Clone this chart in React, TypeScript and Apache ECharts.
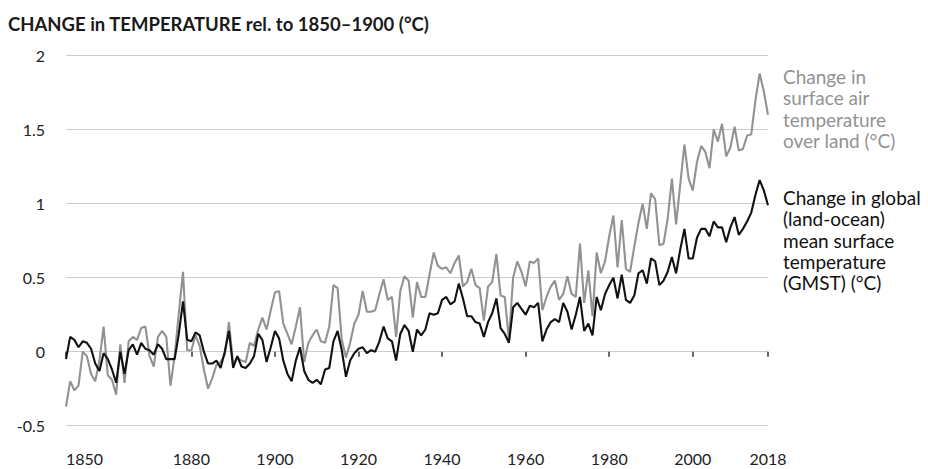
import { useEffect, useRef } from 'react';
import * as echarts from 'echarts';

const YEAR_START = 1850;

// Change in global (land-ocean) mean surface temperature, 1850–2018
const gmst = [
  -0.05, 0.1, 0.08, 0.03, 0.07, 0.06, 0.02, -0.08, -0.13, -0.01,
  -0.05, -0.12, -0.21, 0.0, -0.15, 0.01, 0.05, -0.02, 0.06, 0.02,
  0.01, -0.02, 0.05, 0.02, -0.05, -0.05, -0.05, 0.12, 0.34, 0.08,
  0.07, 0.13, 0.11, 0.0, -0.08, -0.08, -0.06, -0.11, 0.0, 0.14,
  -0.11, -0.03, -0.1, -0.11, -0.08, -0.03, 0.12, 0.08, -0.07, 0.03,
  0.14, 0.09, -0.06, -0.15, -0.2, -0.06, 0.03, -0.13, -0.19, -0.21,
  -0.19, -0.22, -0.12, -0.11, 0.07, 0.14, 0.01, -0.17, -0.06, -0.01,
  0.02, 0.03, -0.01, 0.01, 0.0, 0.07, 0.17, 0.09, 0.07, -0.06,
  0.12, 0.18, 0.14, 0.0, 0.15, 0.11, 0.15, 0.26, 0.25, 0.26,
  0.35, 0.37, 0.32, 0.34, 0.46, 0.36, 0.24, 0.24, 0.2, 0.19,
  0.1, 0.2, 0.26, 0.36, 0.16, 0.12, 0.06, 0.3, 0.33, 0.29,
  0.25, 0.31, 0.3, 0.33, 0.07, 0.15, 0.2, 0.22, 0.2, 0.33,
  0.27, 0.15, 0.25, 0.37, 0.14, 0.19, 0.11, 0.37, 0.28, 0.39,
  0.45, 0.5, 0.36, 0.52, 0.35, 0.33, 0.38, 0.53, 0.55, 0.46,
  0.63, 0.61, 0.45, 0.48, 0.54, 0.64, 0.53, 0.69, 0.83, 0.63,
  0.63, 0.77, 0.83, 0.83, 0.78, 0.88, 0.84, 0.84, 0.74, 0.84,
  0.91, 0.79, 0.83, 0.88, 0.94, 1.06, 1.16, 1.09, 0.99,
];

// Change in surface air temperature over land, 1850–2018
const land = [
  -0.37, -0.2, -0.26, -0.23, 0.0, -0.03, -0.15, -0.2, -0.06, 0.17,
  -0.16, -0.19, -0.29, 0.05, -0.21, 0.07, 0.1, 0.08, 0.16, 0.17,
  -0.03, -0.1, 0.1, 0.14, 0.1, -0.23, -0.03, 0.26, 0.54, 0.01,
  0.01, 0.11, 0.04, -0.12, -0.25, -0.18, -0.09, -0.07, -0.02, 0.2,
  -0.08, -0.04, -0.06, -0.07, 0.06, 0.04, 0.15, 0.23, 0.15, 0.28,
  0.4, 0.41, 0.19, 0.12, 0.05, 0.17, 0.3, -0.07, 0.06, 0.11,
  0.15, 0.07, 0.06, 0.17, 0.45, 0.43, 0.08, -0.04, 0.06, 0.19,
  0.25, 0.41, 0.27, 0.27, 0.28, 0.39, 0.49, 0.35, 0.37, 0.1,
  0.41, 0.51, 0.48, 0.23, 0.47, 0.37, 0.37, 0.52, 0.67, 0.58,
  0.56, 0.57, 0.53, 0.6, 0.65, 0.44, 0.47, 0.56, 0.45, 0.43,
  0.21, 0.44, 0.47, 0.66, 0.38, 0.37, 0.08, 0.5, 0.61, 0.54,
  0.44, 0.61, 0.6, 0.63, 0.28, 0.37, 0.44, 0.48, 0.35, 0.39,
  0.51, 0.39, 0.37, 0.73, 0.33, 0.55, 0.24, 0.67, 0.53, 0.61,
  0.78, 0.92, 0.57, 0.89, 0.56, 0.54, 0.71, 0.87, 1.0, 0.83,
  1.07, 1.03, 0.72, 0.73, 0.9, 1.17, 0.86, 1.13, 1.4, 1.17,
  1.09, 1.28, 1.39, 1.35, 1.24, 1.5, 1.42, 1.54, 1.32, 1.38,
  1.52, 1.36, 1.37, 1.46, 1.47, 1.7, 1.88, 1.76, 1.6,
];

const yearTicks = [1850, 1880, 1900, 1920, 1940, 1960, 1980, 2000, 2018];

const TITLE = 'CHANGE in TEMPERATURE rel. to 1850–1900 (°C)';
const landLabel = ['Change in', 'surface air', 'temperature', 'over land (°C)'];
const gmstLabel = ['Change in global', '(land-ocean)', 'mean surface', 'temperature', '(GMST) (°C)'];

const FONT = 'Lato, "Open Sans", sans-serif';
const GREY = '#929292';
const BLACK = '#111111';

const toPairs = (vals: number[]) => vals.map((v, i) => [YEAR_START + i, v]);

export default function App() {
  const ref = useRef<HTMLDivElement>(null);

  useEffect(() => {
    if (!ref.current) return;
    const chart = echarts.init(ref.current, undefined, { renderer: 'svg' });

    chart.setOption({
      animation: false,
      textStyle: { fontFamily: FONT },
      title: {
        text: TITLE,
        left: 3,
        top: 9,
        textStyle: { fontFamily: FONT, fontSize: 18.5, fontWeight: 'bold', color: '#1a1a1a' },
      },
      grid: { left: 66, right: 160, top: 55.7, bottom: 43.3 },
      xAxis: {
        type: 'value',
        min: 1850,
        max: 2018,
        offset: 8,
        axisLine: { show: false },
        splitLine: { show: false },
        axisTick: {
          show: true,
          length: 5,
          customValues: yearTicks,
          lineStyle: { color: '#333', width: 1.5 },
        },
        axisLabel: {
          customValues: yearTicks,
          margin: 17,
          fontSize: 16,
          color: '#222',
          fontFamily: FONT,
          alignMinLabel: 'left',
          formatter: (v: number) => String(v),
        },
      },
      yAxis: {
        type: 'value',
        min: -0.5,
        max: 2,
        interval: 0.5,
        axisLine: { show: false },
        axisTick: { show: false },
        axisLabel: { margin: 21, fontSize: 16, color: '#222', fontFamily: FONT },
        splitLine: { lineStyle: { color: '#cccccc', width: 1.2 } },
      },
      series: [
        {
          name: 'land',
          type: 'line',
          data: toPairs(land),
          symbol: 'none',
          lineStyle: { color: GREY, width: 2.1 },
          z: 2,
        },
        {
          name: 'gmst',
          type: 'line',
          data: toPairs(gmst),
          symbol: 'none',
          lineStyle: { color: BLACK, width: 2.1 },
          z: 3,
        },
      ],
      graphic: [
        {
          type: 'text',
          left: 783,
          top: 66,
          style: {
            text: landLabel.join('\n'),
            font: `19px ${FONT}`,
            lineHeight: 21.3,
            fill: GREY,
          },
        },
        {
          type: 'text',
          left: 783,
          top: 187,
          style: {
            text: gmstLabel.join('\n'),
            font: `19px ${FONT}`,
            lineHeight: 21.3,
            fill: BLACK,
          },
        },
      ],
    });

    return () => chart.dispose();
  }, []);

  return (
    <div
      ref={ref}
      style={{ position: 'fixed', left: 0, top: 0, width: 928, height: 469, background: '#fff' }}
    />
  );
}
